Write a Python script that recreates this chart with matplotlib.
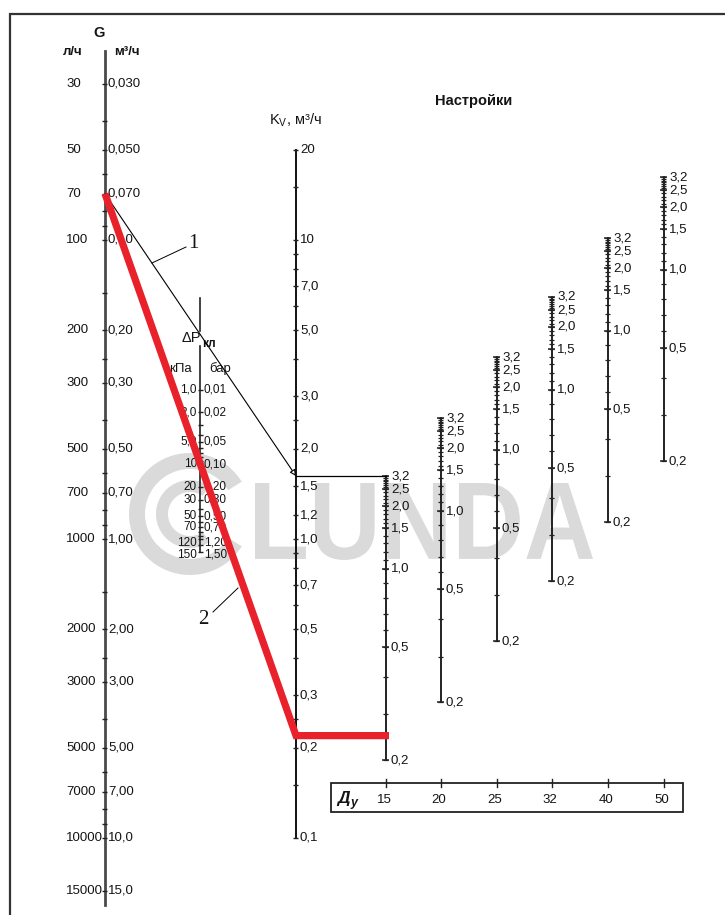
"""Nomogram: flow G, valve pressure drop and Kv with presetting scales per DN."""

import matplotlib

matplotlib.use("Agg")
import matplotlib.pyplot as plt
from matplotlib.font_manager import FontProperties
from matplotlib.patches import PathPatch, Rectangle, Wedge
from matplotlib.textpath import TextPath
from matplotlib.transforms import Affine2D

plt.rcParams["font.family"] = ["Liberation Sans", "DejaVu Sans"]

# flow scale G (l/h), labels in l/h and m3/h
G_TICKS = [30, 40, 50, 60, 70, 80, 90, 100, 150, 200, 250, 300, 400, 500, 600, 700,
           800, 900, 1000, 1500, 2000, 2500, 3000, 4000, 5000, 6000, 7000, 8000, 9000,
           10000, 15000]
G_LABELS = [30, 50, 70, 100, 200, 300, 500, 700, 1000, 2000, 3000, 5000, 7000, 10000, 15000]
G_M3_TEXT = ["0,030", "0,050", "0,070", "0,10", "0,20", "0,30", "0,50", "0,70", "1,00",
             "2,00", "3,00", "5,00", "7,00", "10,0", "15,0"]

# Kv scale (m3/h)
KV_TICKS = [20, 15, 10, 9, 8, 7, 6, 5, 4, 3, 2.5, 2, 1.5, 1.2, 1.0, 0.9, 0.8, 0.7, 0.6,
            0.5, 0.4, 0.3, 0.25, 0.2, 0.15, 0.1]
KV_LABELS = [20, 10, 7, 5, 3, 2, 1.5, 1.2, 1.0, 0.7, 0.5, 0.3, 0.2, 0.1]
KV_TEXT = ["20", "10", "7,0", "5,0", "3,0", "2,0", "1,5", "1,2", "1,0", "0,7", "0,5",
           "0,3", "0,2", "0,1"]

# valve pressure drop (kPa / bar)
DP_TICKS = [1, 2, 3, 4, 5, 6, 7, 8, 9, 10, 20, 30, 40, 50, 60, 70, 80, 90, 100, 120, 150]
DP_LABELS = [1, 2, 5, 10, 20, 30, 50, 70, 120, 150]
DP_KPA_TEXT = ["1,0", "2,0", "5,0", "10", "20", "30", "50", "70", "120", "150"]
DP_BAR_TEXT = ["0,01", "0,02", "0,05", "0,10", "0,20", "0,30", "0,50", "0,70", "1,20", "1,50"]

# presetting scales: Kv of DN15 per setting, other sizes scaled by a factor
SETTINGS = [0.2, 0.3, 0.4, 0.5, 0.6, 0.7, 0.8, 0.9, 1.0, 1.1, 1.2, 1.3, 1.4, 1.5, 1.6,
            1.7, 1.8, 1.9, 2.0, 2.1, 2.2, 2.3, 2.4, 2.5, 2.6, 2.7, 2.8, 2.9, 3.0, 3.1, 3.2]
KV_DN15 = [0.182, 0.259, 0.346, 0.435, 0.496, 0.560, 0.634, 0.714, 0.794, 0.851, 0.907,
           0.967, 1.023, 1.088, 1.127, 1.168, 1.212, 1.250, 1.289, 1.323, 1.360, 1.394,
           1.431, 1.469, 1.493, 1.516, 1.540, 1.563, 1.581, 1.600, 1.624]
SET_LABELS = [3.2, 2.5, 2.0, 1.5, 1.0, 0.5, 0.2]
SET_TEXT = ["3,2", "2,5", "2,0", "1,5", "1,0", "0,5", "0,2"]
DN = [15, 20, 25, 32, 40, 50]
DN_KV_FACTOR = [1.0, 1.56, 2.5, 3.97, 6.25, 10.0]

# example readings
EX_G = 70          # l/h
EX_KV1 = 1.624     # line 1
EX_KV2 = 0.22      # line 2

W, H = 725, 915
PX_DEC = 299.0
KV_TOP = 10 ** (539 / PX_DEC)
X_G, X_DP, X_KV = 105, 200.5, 296
DN_X = [386, 441, 497, 552, 608, 664]
FS = 9.5
INK = "#141414"
AX_C = "#222222"
RED = "#e8212b"
WM = "#dadada"


def px(y):
    """Pixel row -> position on the shared log (Kv) axis."""
    return KV_TOP * 10 ** (-y / PX_DEC)


def g_pos(g):
    return 1000.0 / g


def dp_pos(kpa):
    return (kpa / 100.0) ** -0.25


def ticks(ax, x, vals, half=3.0, lw=1.0):
    ax.hlines(vals, x - half, x + half, color=AX_C, lw=lw)


fig = plt.figure(figsize=(W / 100, H / 100), dpi=100)
bg = fig.add_axes([0, 0, 1, 1])
bg.set_xlim(0, W)
bg.set_ylim(H, 0)
bg.axis("off")

# frame
bg.plot([10, 10, W], [H, 14, 14], color="#333333", lw=1.6, solid_joinstyle="miter")

# watermark
bg.add_patch(Wedge((190, 514), 61, 32, 328, width=16, color=WM, lw=0))
bg.add_patch(Wedge((190, 514), 34, 55, 305, width=12, color=WM, lw=0))
tp = TextPath((0, 0), "LUNDA", size=100, prop=FontProperties(family="Liberation Sans", weight="bold"))
bb = tp.get_extents()
tr = Affine2D().translate(-bb.x0, -bb.y0).scale(338 / bb.width, -77 / bb.height).translate(255, 560)
bg.add_patch(PathPatch(tr.transform_path(tp), color=WM, lw=0))

# DN box
bg.add_patch(Rectangle((331, 783), 352, 29, fill=False, ec=AX_C, lw=1.3))
for x, d in zip(DN_X, DN):
    bg.plot([x, x], [779, 787], color=AX_C, lw=1.0)
    bg.text(x - 2, 800, str(d), ha="center", va="center", fontsize=FS, color=INK)
bg.text(343, 798, "Д", ha="center", va="center", fontsize=12.5, weight="bold", style="italic", color=INK)
bg.text(354, 803, "у", ha="center", va="center", fontsize=9, weight="bold", style="italic", color=INK)

ax = fig.add_axes([0, 0, 1, 1])
ax.set_xlim(0, W)
ax.set_yscale("log")
ax.set_ylim(px(H), px(0))
ax.axis("off")

# G scale
ax.plot([X_G, X_G], [px(51), px(905)], color="#4a4a4a", lw=2.0)
ticks(ax, X_G, [g_pos(g) for g in G_TICKS], half=2.5)
for g, t in zip(G_LABELS, G_M3_TEXT):
    ax.text(66, g_pos(g), str(g), ha="left", va="center", fontsize=FS, color=INK)
    ax.text(108, g_pos(g), t, ha="left", va="center", fontsize=FS, color=INK)
ax.text(99, px(33), "G", ha="center", va="center", fontsize=10.5, weight="bold", color=INK)
ax.text(73, px(52), "л/ч", ha="center", va="center", fontsize=FS, weight="bold", color=INK)
ax.text(127, px(52), "м³/ч", ha="center", va="center", fontsize=FS, weight="bold", color=INK)

# pressure drop scale
ax.plot([X_DP, X_DP], [px(298), px(331)], color=AX_C, lw=1.2)
ax.plot([X_DP, X_DP], [px(346), dp_pos(150)], color=AX_C, lw=1.2)
ticks(ax, X_DP, [dp_pos(p) for p in DP_TICKS], half=2.5)
# the two lowest labels sit very close; nudge them apart a little
nudge = {120: 1.5, 150: -2.0}
for p, a, b in zip(DP_LABELS, DP_KPA_TEXT, DP_BAR_TEXT):
    dy = nudge.get(p, 0.0)
    ax.annotate(a, (197, dp_pos(p)), xytext=(0, dy), textcoords="offset points",
                ha="right", va="center", fontsize=8.5, color=INK)
    ax.annotate(b, (204, dp_pos(p)), xytext=(0, dy), textcoords="offset points",
                ha="left", va="center", fontsize=8.5, color=INK)
ax.text(191, px(338), "ΔP", ha="center", va="center", fontsize=10.5, color=INK)
ax.text(209, px(344), "кл", ha="center", va="center", fontsize=8.5, weight="bold", color=INK)
ax.text(180, px(369), "кПа", ha="center", va="center", fontsize=FS, color=INK)
ax.text(220, px(369), "бар", ha="center", va="center", fontsize=FS, color=INK)

# Kv scale
ax.plot([X_KV, X_KV], [20, 0.1], color="#111111", lw=1.4)
ticks(ax, X_KV, KV_TICKS, half=2.5)
for k, t in zip(KV_LABELS, KV_TEXT):
    ax.text(300, k, t, ha="left", va="center", fontsize=FS, color=INK)
ax.text(269, px(120), r"K$_\mathregular{V}$, м³/ч", ha="left", va="center", fontsize=10.5, color=INK)

# presetting scales
ax.text(435, px(101), "Настройки", ha="left", va="center", fontsize=10.5, weight="bold", color=INK)
i_lab = [SETTINGS.index(s) for s in SET_LABELS]
for x, f in zip(DN_X, DN_KV_FACTOR):
    kv = [k * f for k in KV_DN15]
    ax.plot([x, x], [kv[0], kv[-1]], color="#111111", lw=1.3)
    ticks(ax, x, kv, half=2.5, lw=0.9)
    ticks(ax, x, [kv[i] for i in i_lab], half=3.5, lw=1.1)
    for i, t in zip(i_lab, SET_TEXT):
        ax.text(x + 5, kv[i], t, ha="left", va="center", fontsize=FS, color=INK)

# example 1 (thin line)
ax.annotate("", xy=(X_KV, EX_KV1), xytext=(X_G, g_pos(EX_G)),
            arrowprops=dict(arrowstyle="-|>", color="black", lw=0.8, mutation_scale=9,
                            shrinkA=0, shrinkB=0, fc="white"))
ax.plot([X_KV, DN_X[0]], [EX_KV1, EX_KV1], color="black", lw=0.9)
ax.plot([152, 186], [px(263), px(247)], color="black", lw=0.7)
ax.text(193, px(243), "1", ha="center", va="center", fontsize=15, family="Liberation Serif", color=INK)

# example 2 (red line)
ax.plot([X_G, X_KV, DN_X[0] + 3], [g_pos(EX_G), EX_KV2, EX_KV2], color=RED, lw=5.2,
        solid_joinstyle="miter", solid_capstyle="butt", zorder=5)
ax.plot([213, 238], [px(612), px(588)], color="black", lw=0.7)
ax.text(203, px(619), "2", ha="center", va="center", fontsize=15, family="Liberation Serif", color=INK)

fig.savefig("out.png", dpi=100)
plt.close(fig)
